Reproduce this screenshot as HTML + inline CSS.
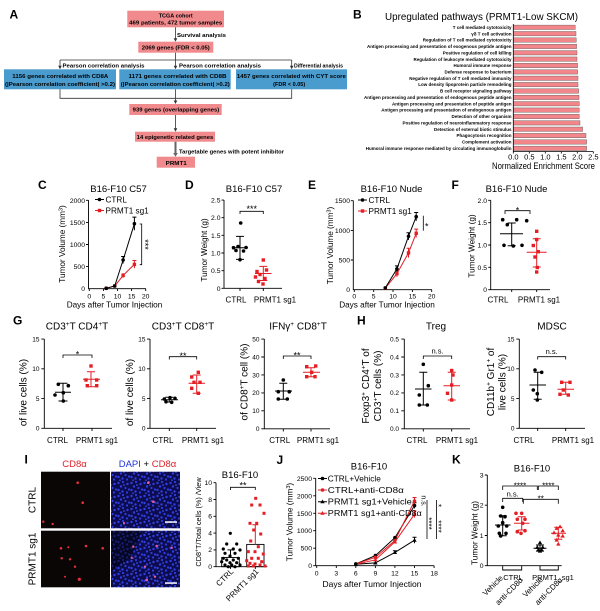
<!DOCTYPE html>
<html><head><meta charset="utf-8">
<style>
html,body{margin:0;padding:0;background:#fff;width:600px;height:611px;overflow:hidden}
svg{display:block}
text{font-family:"Liberation Sans",Arial,sans-serif;fill:#000}
</style></head><body>
<svg xmlns="http://www.w3.org/2000/svg" width="600" height="611" viewBox="0 0 600 611">
<defs>
<pattern id="dapi" width="13" height="13" patternUnits="userSpaceOnUse">
<rect width="13" height="13" fill="#0c0c4e"/>
<g fill="#2e3ee0">
<circle cx="1.5" cy="2" r="1.2"/><circle cx="6" cy="1" r="1.1"/><circle cx="10.5" cy="3" r="1.2"/>
<circle cx="4" cy="5.5" r="1.2"/><circle cx="8.5" cy="7" r="1.1"/><circle cx="12" cy="8.5" r="1.1"/>
<circle cx="1.5" cy="9" r="1.2"/><circle cx="5.5" cy="10.5" r="1.2"/><circle cx="10" cy="11.5" r="1.1"/>
</g>
<g fill="#5060ff"><circle cx="7" cy="4" r="0.8"/><circle cx="3" cy="12.2" r="0.7"/></g>
</pattern>
</defs>
<rect width="600" height="611" fill="#fff"/>

<!-- ============ PANEL A ============ -->
<text x="9.5" y="18.5" font-size="12" font-weight="bold">A</text>
<g fill="#f08a8d">
<rect x="127.3" y="10.7" width="96.7" height="16.6"/>
<rect x="138.3" y="41.7" width="75" height="11"/>
<rect x="129.3" y="104" width="92.4" height="11"/>
<rect x="135" y="131.7" width="80" height="10"/>
<rect x="156.7" y="156.7" width="38.3" height="11"/>
</g>
<g fill="#4a9ccf">
<rect x="4" y="69.3" width="112" height="20"/>
<rect x="119.3" y="69.3" width="111.4" height="20"/>
<rect x="236" y="69.3" width="111" height="20"/>
</g>
<g stroke="#333" stroke-width="0.8" fill="none">
<path d="M175.5 27.3V39 M175.5 52.7V60 M60 60H291.7 M60 60V66.5 M175.5 60V66.5 M291.7 60V66.5 M60 89.3V98.3H291.7V89.3 M175.5 89.3V101.3 M175.5 115V129"/>
</g>
<path d="M175.5 141.7V153.5" stroke="#666" stroke-width="2"/>
<g fill="#333">
<polygon points="173.7,38.2 177.3,38.2 175.5,41.7"/>
<polygon points="58.2,65.8 61.8,65.8 60,69.3"/>
<polygon points="173.7,65.8 177.3,65.8 175.5,69.3"/>
<polygon points="289.9,65.8 293.5,65.8 291.7,69.3"/>
<polygon points="173.7,100.5 177.3,100.5 175.5,104"/>
<polygon points="173.7,128.2 177.3,128.2 175.5,131.7"/>
<polygon points="173.2,153 177.8,153 175.5,156.7" fill="#666"/>
</g>
<g font-size="5.5" font-weight="bold" fill="#222">
<text x="175.7" y="17.5" text-anchor="middle">TCGA cohort</text>
<text x="175.7" y="24.7" text-anchor="middle" textLength="93" lengthAdjust="spacingAndGlyphs">469 patients, 472 tumor samples</text>
<text x="175.8" y="49.5" text-anchor="middle" textLength="68" lengthAdjust="spacingAndGlyphs">2069 genes (FDR &lt; 0.05)</text>
<text x="177" y="37" textLength="49" lengthAdjust="spacingAndGlyphs">Survival analysis</text>
<text x="62.5" y="67.5" textLength="82" lengthAdjust="spacingAndGlyphs">Pearson correlation analysis</text>
<text x="179" y="67.5" textLength="82" lengthAdjust="spacingAndGlyphs">Pearson correlation analysis</text>
<text x="294" y="67.5" textLength="49" lengthAdjust="spacingAndGlyphs">Differential analysis</text>
<text x="60.3" y="78" text-anchor="middle" textLength="96" lengthAdjust="spacingAndGlyphs">1156 genes correlated with CD8A</text>
<text x="60" y="86" text-anchor="middle" textLength="110" lengthAdjust="spacingAndGlyphs">(|Pearson correlation coefficient| &gt;0.2)</text>
<text x="177.5" y="78" text-anchor="middle" textLength="98" lengthAdjust="spacingAndGlyphs">1171 genes correlated with CD8B</text>
<text x="175.3" y="86" text-anchor="middle" textLength="109" lengthAdjust="spacingAndGlyphs">(|Pearson correlation coefficient| &gt;0.2)</text>
<text x="291.4" y="78" text-anchor="middle" textLength="109" lengthAdjust="spacingAndGlyphs">1457 genes correlated with CYT score</text>
<text x="289.2" y="86" text-anchor="middle" textLength="32" lengthAdjust="spacingAndGlyphs">(FDR &lt; 0.05)</text>
<text x="176" y="111.7" text-anchor="middle" textLength="86.6" lengthAdjust="spacingAndGlyphs">939 genes (overlapping genes)</text>
<text x="175" y="138.9" text-anchor="middle" textLength="76.6" lengthAdjust="spacingAndGlyphs">14 epigenetic related genes</text>
<text x="179" y="153.5" textLength="105" lengthAdjust="spacingAndGlyphs">Targetable genes with potent inhibitor</text>
<text x="176.2" y="165" text-anchor="middle" textLength="21" lengthAdjust="spacingAndGlyphs">PRMT1</text>
</g>

<!-- ============ PANEL B ============ -->
<text x="353" y="18.5" font-size="12" font-weight="bold">B</text>
<text x="385" y="20" font-size="10" textLength="193" lengthAdjust="spacingAndGlyphs">Upregulated pathways (PRMT1-Low SKCM)</text>
<g fill="#f3868a" stroke="#555" stroke-width="0.4">
<rect x="513.3" y="25.1" width="62" height="4.4"/>
<rect x="513.3" y="31.47" width="62.7" height="4.4"/>
<rect x="513.3" y="37.84" width="63" height="4.4"/>
<rect x="513.3" y="44.21" width="63.3" height="4.4"/>
<rect x="513.3" y="50.58" width="63.7" height="4.4"/>
<rect x="513.3" y="56.95" width="63.7" height="4.4"/>
<rect x="513.3" y="63.32" width="64.3" height="4.4"/>
<rect x="513.3" y="69.69" width="64.3" height="4.4"/>
<rect x="513.3" y="76.06" width="64.7" height="4.4"/>
<rect x="513.3" y="82.43" width="64.7" height="4.4"/>
<rect x="513.3" y="88.8" width="65.3" height="4.4"/>
<rect x="513.3" y="95.17" width="65.7" height="4.4"/>
<rect x="513.3" y="101.54" width="66" height="4.4"/>
<rect x="513.3" y="107.91" width="66" height="4.4"/>
<rect x="513.3" y="114.28" width="66" height="4.4"/>
<rect x="513.3" y="120.65" width="66.7" height="4.4"/>
<rect x="513.3" y="127.02" width="69.3" height="4.4"/>
<rect x="513.3" y="133.39" width="72.7" height="4.4"/>
<rect x="513.3" y="139.76" width="73.3" height="4.4"/>
<rect x="513.3" y="146.13" width="73.3" height="4.4"/>
</g>
<g font-size="4.5" font-weight="bold" text-anchor="end">
<text x="511.5" y="28.9">T cell mediated cytotoxicity</text>
<text x="511.5" y="35.27">γδ T cell activation</text>
<text x="511.5" y="41.64">Regulation of T cell mediated cytotoxicity</text>
<text x="511.5" y="48.01">Antigen processing and presentation of exogenous peptide antigen</text>
<text x="511.5" y="54.38">Positive regulation of cell killing</text>
<text x="511.5" y="60.75">Regulation of leukocyte mediated cytotoxicity</text>
<text x="511.5" y="67.12">Humoral immune response</text>
<text x="511.5" y="73.49">Defense response to bacterium</text>
<text x="511.5" y="79.86">Negative regulation of T cell mediated immunity</text>
<text x="511.5" y="86.23">Low density lipoprotein particle remodeling</text>
<text x="511.5" y="92.6">B cell receptor signaling pathway</text>
<text x="511.5" y="98.97">Antigen processing and presentation of endogenous peptide antigen</text>
<text x="511.5" y="105.34">Antigen processing and presentation of peptide antigen</text>
<text x="511.5" y="111.71">Antigen processing and presentation of endogenous antigen</text>
<text x="511.5" y="118.08">Detection of other organism</text>
<text x="511.5" y="124.45">Positive regulation of neuroinflammatory response</text>
<text x="511.5" y="130.82">Detection of external biotic stimulus</text>
<text x="511.5" y="137.19">Phagocytosis recognition</text>
<text x="511.5" y="143.56">Complement activation</text>
<text x="511.5" y="149.93">Humoral immune response mediated by circulating immunoglobulin</text>
</g>
<g stroke="#000" stroke-width="0.8" fill="none">
<path d="M513.3 24V151.5H593.3 M513.3 151.5V153.5 M529.3 151.5V153.5 M545.3 151.5V153.5 M561.3 151.5V153.5 M577.3 151.5V153.5 M593.3 151.5V153.5"/>
</g>
<g font-size="7.5" text-anchor="middle">
<text x="513.3" y="159.5">0.0</text><text x="529.3" y="159.5">0.5</text><text x="545.3" y="159.5">1.0</text>
<text x="561.3" y="159.5">1.5</text><text x="577.3" y="159.5">2.0</text><text x="593.3" y="159.5">2.5</text>
</g>
<text x="543.5" y="169" font-size="9" text-anchor="middle" textLength="103" lengthAdjust="spacingAndGlyphs">Normalized Enrichment Score</text>

<!-- ============ PANEL C ============ -->
<text x="38" y="189" font-size="12" font-weight="bold">C</text>
<text x="118.5" y="192" font-size="9.5" text-anchor="middle">B16-F10 C57</text>
<g stroke="#000" stroke-width="0.9" fill="none">
<path d="M88.5 200.3V288.7H146 M86 200.3H88.5 M86 222.4H88.5 M86 244.5H88.5 M86 266.6H88.5 M89.3 288.7V291 M103.4 288.7V291 M117.5 288.7V291 M131.6 288.7V291 M145.7 288.7V291"/>
</g>
<g font-size="6.8" text-anchor="end">
<text x="85" y="202.8">2000</text><text x="85" y="224.9">1500</text><text x="85" y="247">1000</text><text x="85" y="269.1">500</text><text x="85" y="291.2">0</text>
</g>
<g font-size="6.8" text-anchor="middle">
<text x="89.3" y="298.5">0</text><text x="103.4" y="298.5">5</text><text x="117.5" y="298.5">10</text><text x="131.6" y="298.5">15</text><text x="145.7" y="298.5">20</text>
</g>
<text transform="translate(65 244) rotate(-90)" font-size="8.2" text-anchor="middle">Tumor Volume (mm<tspan dy="-2.6" font-size="5.5">3</tspan><tspan dy="2.6">)</tspan></text>
<text x="114.5" y="307.5" font-size="8.2" text-anchor="middle">Days after Tumor Injection</text>
<g fill="none" stroke-width="1">
<path d="M106.2 288.3L114.7 286L123.1 275.4L134.4 264.4 M134.4 260.5V268.3 M132.4 260.5H136.4 M123.1 273V277.8" stroke="#e31e24"/>
<path d="M106.2 288.3L114.7 286L123.1 260L134.4 223.7 M134.4 217.1V230.3 M132.4 217.1H136.4 M123.1 256.5V263.5 M121.1 256.5H125.1" stroke="#000"/>
<path d="M95 210.5H104" stroke="#e31e24"/><path d="M95 199.5H104" stroke="#000"/>
</g>
<g fill="#e31e24">
<rect x="104.5" y="286.6" width="3.4" height="3.4"/><rect x="113" y="284.3" width="3.4" height="3.4"/>
<rect x="121.4" y="273.7" width="3.4" height="3.4"/><rect x="132.7" y="262.7" width="3.4" height="3.4"/>
<rect x="97.8" y="208.8" width="3.4" height="3.4"/>
</g>
<g fill="#000">
<circle cx="106.2" cy="288.3" r="1.8"/><circle cx="114.7" cy="286" r="1.8"/><circle cx="123.1" cy="260" r="1.8"/><circle cx="134.4" cy="223.7" r="1.8"/>
<circle cx="99.5" cy="199.5" r="1.8"/>
</g>
<text x="105.5" y="202.5" font-size="8.2">CTRL</text>
<text x="105.5" y="213.5" font-size="8.2">PRMT1 sg1</text>
<path d="M139.7 224H141.7V264.7H139.7" stroke="#000" stroke-width="0.8" fill="none"/>
<text transform="translate(142 244.5) rotate(90)" font-size="9" text-anchor="middle">***</text>

<!-- ============ PANEL D ============ -->
<text x="185" y="189" font-size="12" font-weight="bold">D</text>
<text x="254" y="192" font-size="9.5" text-anchor="middle">B16-F10 C57</text>
<g stroke="#000" stroke-width="0.9" fill="none">
<path d="M224 200V288.3H282 M221.5 200.05H224 M221.5 217.7H224 M221.5 235.35H224 M221.5 253H224 M221.5 270.65H224 M221.5 288.3H224 M240 288.3V291 M263.3 288.3V291"/>
</g>
<g font-size="6.8" text-anchor="end">
<text x="220.5" y="202.5">2.5</text><text x="220.5" y="220.2">2.0</text><text x="220.5" y="237.8">1.5</text>
<text x="220.5" y="255.5">1.0</text><text x="220.5" y="273.1">0.5</text><text x="220.5" y="290.8">0</text>
</g>
<text x="236" y="302.5" font-size="8" text-anchor="middle">CTRL</text>
<text x="275" y="302.5" font-size="8" text-anchor="middle">PRMT1 sg1</text>
<text transform="translate(207 250) rotate(-90)" font-size="8.2" text-anchor="middle">Tumor Weight (g)</text>
<g fill="#000">
<circle cx="240.7" cy="223" r="1.8"/><circle cx="233.5" cy="247.7" r="1.8"/><circle cx="238" cy="246.5" r="1.8"/>
<circle cx="246" cy="247.5" r="1.8"/><circle cx="236" cy="250.5" r="1.8"/><circle cx="243.5" cy="251" r="1.8"/><circle cx="240" cy="259.7" r="1.8"/>
</g>
<g fill="#e31e24">
<rect x="261.6" y="258.3" width="3.4" height="3.4"/><rect x="255.3" y="269.8" width="3.4" height="3.4"/><rect x="264.8" y="268.3" width="3.4" height="3.4"/>
<rect x="258.3" y="272.8" width="3.4" height="3.4"/><rect x="253.8" y="275.3" width="3.4" height="3.4"/><rect x="263.3" y="276.8" width="3.4" height="3.4"/>
<rect x="256.8" y="279.8" width="3.4" height="3.4"/><rect x="261.3" y="282.3" width="3.4" height="3.4"/>
</g>
<path d="M232 247.7H248 M240 236.4V259.4 M236 236.4H244 M236 259.4H244" stroke="#000" stroke-width="1" fill="none"/>
<path d="M255 273.5H271.5 M263.3 266.4V280.5 M259.3 266.4H267.3 M259.3 280.5H267.3" stroke="#e31e24" stroke-width="1" fill="none"/>
<path d="M240 214V211.3H263.3V214" stroke="#000" stroke-width="0.8" fill="none"/>
<text x="251.7" y="211.8" font-size="9" text-anchor="middle">***</text>

<!-- ============ PANEL E ============ -->
<text x="308" y="189" font-size="12" font-weight="bold">E</text>
<text x="391.5" y="192" font-size="9.5" text-anchor="middle">B16-F10 Nude</text>
<g stroke="#000" stroke-width="0.9" fill="none">
<path d="M353.3 200.5V289.7H432 M350.8 200.7H353.3 M350.8 230.4H353.3 M350.8 260H353.3 M354.3 289.7V292 M373.7 289.7V292 M393 289.7V292 M412.4 289.7V292 M431.7 289.7V292"/>
</g>
<g font-size="6.8" text-anchor="end">
<text x="350" y="203.2">1500</text><text x="350" y="232.9">1000</text><text x="350" y="262.5">500</text><text x="350" y="292.2">0</text>
</g>
<g font-size="6.8" text-anchor="middle">
<text x="354.3" y="298.5">0</text><text x="373.7" y="298.5">5</text><text x="393" y="298.5">10</text><text x="412.4" y="298.5">15</text><text x="431.7" y="298.5">20</text>
</g>
<text transform="translate(333 245.5) rotate(-90)" font-size="8.2" text-anchor="middle">Tumor Volume (mm<tspan dy="-2.6" font-size="5.5">3</tspan><tspan dy="2.6">)</tspan></text>
<text x="387" y="307.5" font-size="8.2" text-anchor="middle">Days after Tumor Injection</text>
<g fill="none" stroke-width="1">
<path d="M385.3 288.2L396.9 273.7L408.5 252.9L416.2 233.3 M396.9 270.7V276.7 M394.9 270.7H398.9 M408.5 248.2V257.6 M406.5 248.2H410.5 M416.2 229.1V237.5 M414.2 229.1H418.2" stroke="#e31e24"/>
<path d="M385.3 287.9L396.9 268.9L408.5 236.3L416.2 216.7 M396.9 265.9V271.9 M394.9 265.9H398.9 M408.5 232.7V239.9 M406.5 232.7H410.5 M416.2 212.5V220.9 M414.2 212.5H418.2" stroke="#000"/>
<path d="M358 211H367" stroke="#e31e24"/><path d="M358 200H367" stroke="#000"/>
</g>
<g fill="#e31e24">
<rect x="383.6" y="286.5" width="3.4" height="3.4"/><rect x="395.2" y="272" width="3.4" height="3.4"/>
<rect x="406.8" y="251.2" width="3.4" height="3.4"/><rect x="414.5" y="231.6" width="3.4" height="3.4"/>
<rect x="360.8" y="209.3" width="3.4" height="3.4"/>
</g>
<g fill="#000">
<circle cx="385.3" cy="287.9" r="1.8"/><circle cx="396.9" cy="268.9" r="1.8"/><circle cx="408.5" cy="236.3" r="1.8"/><circle cx="416.2" cy="216.7" r="1.8"/>
<circle cx="362.5" cy="200" r="1.8"/>
</g>
<text x="368.5" y="203" font-size="8.2">CTRL</text>
<text x="368.5" y="214" font-size="8.2">PRMT1 sg1</text>
<path d="M423.3 215.7V230.7" stroke="#000" stroke-width="0.8"/>
<text x="425" y="229.5" font-size="9">*</text>

<!-- ============ PANEL F ============ -->
<text x="451.5" y="189" font-size="12" font-weight="bold">F</text>
<text x="516.5" y="192" font-size="9.5" text-anchor="middle">B16-F10 Nude</text>
<g stroke="#000" stroke-width="0.9" fill="none">
<path d="M490.7 200.3V289.7H550 M488.2 200.3H490.7 M488.2 222.65H490.7 M488.2 245H490.7 M488.2 267.35H490.7 M488.2 289.7H490.7 M511.7 289.7V292 M536.7 289.7V292"/>
</g>
<g font-size="6.8" text-anchor="end">
<text x="487" y="202.8">2.0</text><text x="487" y="225.1">1.5</text><text x="487" y="247.5">1.0</text><text x="487" y="269.8">0.5</text><text x="487" y="292.2">0</text>
</g>
<text x="498" y="302.5" font-size="8" text-anchor="middle">CTRL</text>
<text x="539" y="302.5" font-size="8" text-anchor="middle">PRMT1 sg1</text>
<text transform="translate(474.5 246) rotate(-90)" font-size="8.2" text-anchor="middle">Tumor Weight (g)</text>
<g fill="#000">
<circle cx="502.7" cy="219.7" r="1.8"/><circle cx="516.7" cy="219.7" r="1.8"/><circle cx="526.7" cy="220.7" r="1.8"/>
<circle cx="507.3" cy="224.7" r="1.8"/><circle cx="504" cy="245.3" r="1.8"/><circle cx="513.3" cy="246" r="1.8"/><circle cx="522" cy="245.3" r="1.8"/>
</g>
<g fill="#e31e24">
<rect x="535" y="229.6" width="3.4" height="3.4"/><rect x="535" y="237.8" width="3.4" height="3.4"/><rect x="531.6" y="243.8" width="3.4" height="3.4"/>
<rect x="536.6" y="250" width="3.4" height="3.4"/><rect x="533.3" y="255.3" width="3.4" height="3.4"/><rect x="535.6" y="265.8" width="3.4" height="3.4"/>
<rect x="535" y="270.3" width="3.4" height="3.4"/>
</g>
<path d="M500 233.7H523 M511.7 223V245.7 M507.7 223H515.7 M507.7 245.7H515.7" stroke="#000" stroke-width="1" fill="none"/>
<path d="M526.7 252.3H546.7 M536.7 238.7V267 M532.7 238.7H540.7 M532.7 267H540.7" stroke="#e31e24" stroke-width="1" fill="none"/>
<path d="M505 214V210.7H530V214" stroke="#000" stroke-width="0.8" fill="none"/>
<text x="517.5" y="213.5" font-size="9" text-anchor="middle">*</text>

<!-- ============ PANEL G ============ -->
<text x="13" y="324.5" font-size="12" font-weight="bold">G</text>
<g font-size="10" text-anchor="middle">
<text x="77" y="329.5">CD3<tspan dy="-3.5" font-size="6.5">+</tspan><tspan dy="3.5">T CD4</tspan><tspan dy="-3.5" font-size="6.5">+</tspan><tspan dy="3.5">T</tspan></text>
<text x="183" y="329.5">CD3<tspan dy="-3.5" font-size="6.5">+</tspan><tspan dy="3.5">T CD8</tspan><tspan dy="-3.5" font-size="6.5">+</tspan><tspan dy="3.5">T</tspan></text>
<text x="298" y="329.5">IFNγ<tspan dy="-3.5" font-size="6.5">+</tspan><tspan dy="3.5"> CD8</tspan><tspan dy="-3.5" font-size="6.5">+</tspan><tspan dy="3.5">T</tspan></text>
<text x="436" y="329.5">Treg</text>
<text x="552" y="329.5">MDSC</text>
</g>
<g stroke="#000" stroke-width="0.9" fill="none">
<path d="M44.3 339V428.3H112 M41.3 339.05H44.3 M41.3 368.8H44.3 M41.3 398.55H44.3 M41.3 428.3H44.3 M63 428.3V431 M92 428.3V431"/>
<path d="M150 339V428.3H216 M147 339.05H150 M147 368.8H150 M147 398.55H150 M147 428.3H150 M169.3 428.3V431 M196.7 428.3V431"/>
<path d="M264.3 339V428.8H330 M261.3 339.05H264.3 M261.3 357H264.3 M261.3 374.95H264.3 M261.3 392.9H264.3 M261.3 410.85H264.3 M261.3 428.8H264.3 M283.3 428.8V431.5 M311 428.8V431.5"/>
<path d="M404.3 339V428.8H470 M401.3 339.05H404.3 M401.3 357H404.3 M401.3 374.95H404.3 M401.3 392.9H404.3 M401.3 410.85H404.3 M401.3 428.8H404.3 M423.3 428.8V431.5 M451.7 428.8V431.5"/>
<path d="M519.3 339V428.3H585 M516.3 339.05H519.3 M516.3 368.8H519.3 M516.3 398.55H519.3 M516.3 428.3H519.3 M537.7 428.3V431 M565.7 428.3V431"/>
</g>
<g font-size="6.5" text-anchor="end">
<text x="39.5" y="341.4">15</text><text x="39.5" y="371.1">10</text><text x="39.5" y="400.9">5</text><text x="39.5" y="430.6">0</text>
<text x="145.5" y="341.4">15</text><text x="145.5" y="371.1">10</text><text x="145.5" y="400.9">5</text><text x="145.5" y="430.6">0</text>
<text x="259.5" y="341.4">50</text><text x="259.5" y="359.3">40</text><text x="259.5" y="377.3">30</text><text x="259.5" y="395.2">20</text><text x="259.5" y="413.2">10</text><text x="259.5" y="431.1">0</text>
<text x="399" y="341.4">0.5</text><text x="399" y="359.3">0.4</text><text x="399" y="377.3">0.3</text><text x="399" y="395.2">0.2</text><text x="399" y="413.2">0.1</text><text x="399" y="431.1">0.0</text>
<text x="514.5" y="341.4">15</text><text x="514.5" y="371.1">10</text><text x="514.5" y="400.9">5</text><text x="514.5" y="430.6">0</text>
</g>
<g font-size="8" text-anchor="middle">
<text x="57.5" y="443">CTRL</text><text x="97" y="443">PRMT1 sg1</text>
<text x="163" y="443">CTRL</text><text x="203" y="443">PRMT1 sg1</text>
<text x="279.7" y="443">CTRL</text><text x="318" y="443">PRMT1 sg1</text>
<text x="417" y="443">CTRL</text><text x="457" y="443">PRMT1 sg1</text>
<text x="524" y="443">CTRL</text><text x="573" y="443">PRMT1 sg1</text>
</g>
<g font-size="10" text-anchor="middle">
<text transform="translate(26.5 392.5) rotate(-90)">of live cells (%)</text>
<text transform="translate(133 392.5) rotate(-90)">of live cells (%)</text>
<text transform="translate(247.5 382) rotate(-90)">of CD8<tspan dy="-3.3" font-size="6.5">+</tspan><tspan dy="3.3">T cell (%)</tspan></text>
<text transform="translate(369 386) rotate(-90)">Foxp3<tspan dy="-3.3" font-size="6.5">+</tspan><tspan dy="3.3"> CD4</tspan><tspan dy="-3.3" font-size="6.5">+</tspan><tspan dy="3.3">T of</tspan></text>
<text transform="translate(381 386) rotate(-90)">CD3<tspan dy="-3.3" font-size="6.5">+</tspan><tspan dy="3.3">T cells (%)</tspan></text>
<text transform="translate(494 382) rotate(-90)">CD11b<tspan dy="-3.3" font-size="6.5">+</tspan><tspan dy="3.3"> Gr1</tspan><tspan dy="-3.3" font-size="6.5">+</tspan><tspan dy="3.3"> of</tspan></text>
<text transform="translate(505.5 382) rotate(-90)">live cells (%)</text>
</g>
<g fill="#000">
<circle cx="58.3" cy="384.3" r="1.8"/><circle cx="68.3" cy="385.7" r="1.8"/><circle cx="63.3" cy="392.7" r="1.8"/><circle cx="55" cy="395" r="1.8"/><circle cx="63.3" cy="401" r="1.8"/>
<circle cx="164.3" cy="399" r="1.8"/><circle cx="170" cy="397.7" r="1.8"/><circle cx="175" cy="398.3" r="1.8"/><circle cx="166" cy="401.7" r="1.8"/><circle cx="171.7" cy="402.3" r="1.8"/>
<circle cx="283.3" cy="380" r="1.8"/><circle cx="278.3" cy="391.7" r="1.8"/><circle cx="289.3" cy="391.7" r="1.8"/><circle cx="278.3" cy="399" r="1.8"/><circle cx="287.3" cy="399" r="1.8"/>
<circle cx="423.3" cy="364.3" r="1.8"/><circle cx="428.3" cy="385.7" r="1.8"/><circle cx="419.3" cy="395" r="1.8"/><circle cx="419.3" cy="405" r="1.8"/><circle cx="427.3" cy="405" r="1.8"/>
<circle cx="535" cy="370" r="1.8"/><circle cx="541.7" cy="372.3" r="1.8"/><circle cx="533.3" cy="390" r="1.8"/><circle cx="537.3" cy="393.7" r="1.8"/><circle cx="537.3" cy="400" r="1.8"/>
</g>
<g fill="#e31e24">
<rect x="89.3" y="364.3" width="3.4" height="3.4"/><rect x="84.3" y="378.3" width="3.4" height="3.4"/><rect x="95" y="378.3" width="3.4" height="3.4"/><rect x="85.6" y="384" width="3.4" height="3.4"/><rect x="95" y="384" width="3.4" height="3.4"/>
<rect x="196.6" y="370.6" width="3.4" height="3.4"/><rect x="190" y="375.3" width="3.4" height="3.4"/><rect x="192.3" y="380.6" width="3.4" height="3.4"/><rect x="198.3" y="380.6" width="3.4" height="3.4"/><rect x="190" y="386.6" width="3.4" height="3.4"/><rect x="196.6" y="391.6" width="3.4" height="3.4"/>
<rect x="305" y="365" width="3.4" height="3.4"/><rect x="314" y="364.3" width="3.4" height="3.4"/><rect x="310" y="370.6" width="3.4" height="3.4"/><rect x="305" y="375" width="3.4" height="3.4"/><rect x="313.3" y="375" width="3.4" height="3.4"/>
<rect x="450" y="368.8" width="3.4" height="3.4"/><rect x="451.3" y="373.3" width="3.4" height="3.4"/><rect x="450" y="383.3" width="3.4" height="3.4"/><rect x="445.8" y="391.6" width="3.4" height="3.4"/><rect x="450" y="398.3" width="3.4" height="3.4"/>
<rect x="560" y="380.6" width="3.4" height="3.4"/><rect x="568.3" y="380.6" width="3.4" height="3.4"/><rect x="561.6" y="388.3" width="3.4" height="3.4"/><rect x="558.3" y="392.6" width="3.4" height="3.4"/><rect x="566.6" y="393.3" width="3.4" height="3.4"/>
</g>
<g stroke="#000" stroke-width="1" fill="none">
<path d="M55 392.3H71 M63 383.3V401 M58.5 383.3H67.5 M58.5 401H67.5"/>
<path d="M161 399.7H178 M169.3 397.3V402 M165.3 397.3H173.3 M165.3 402H173.3"/>
<path d="M275 391H292 M283.3 383.3V399.3 M279.3 383.3H287.3 M279.3 399.3H287.3"/>
<path d="M415 389H431.5 M423.3 372.3V405 M419.3 372.3H427.3 M419.3 405H427.3"/>
<path d="M529.5 385H546 M537.7 372.3V399.3 M533.7 372.3H541.7 M533.7 399.3H541.7"/>
</g>
<g stroke="#e31e24" stroke-width="1" fill="none">
<path d="M83 379.3H100 M91 371.7V386.7 M87 371.7H95 M87 386.7H95"/>
<path d="M188.5 383.3H205 M196.7 375V393.3 M192.7 375H200.7 M192.7 393.3H200.7"/>
<path d="M303 372.3H320 M311 367.7V376.7 M307 367.7H315 M307 376.7H315"/>
<path d="M443.5 385.7H460 M451.7 372.3V400 M447.7 372.3H455.7 M447.7 400H455.7"/>
<path d="M557.5 389.3H574 M565.7 382.3V394.3 M561.7 382.3H569.7 M561.7 394.3H569.7"/>
</g>
<g stroke="#000" stroke-width="0.8" fill="none">
<path d="M63 358V355H92V358"/>
<path d="M169.3 359.5V356.7H196.7V359.5"/>
<path d="M283.3 359V356H311V359"/>
<path d="M423.3 359V356H451.7V359"/>
<path d="M537.7 359.5V356.7H565.7V359.5"/>
</g>
<g font-size="9" text-anchor="middle">
<text x="77.5" y="357.5">*</text>
<text x="183" y="359">**</text>
<text x="297" y="358.5">**</text>
</g>
<g font-size="7.5" text-anchor="middle">
<text x="437.5" y="353.3">n.s.</text>
<text x="551.7" y="354">n.s.</text>
</g>
<text x="357" y="324.5" font-size="12" font-weight="bold">H</text>

<!-- ============ PANEL I ============ -->
<text x="24.5" y="463.5" font-size="12" font-weight="bold">I</text>
<text x="74.5" y="467" font-size="9.5" text-anchor="middle" style="fill:#e0202a">CD8α</text>
<text x="147.5" y="467" font-size="9.5" text-anchor="middle"><tspan style="fill:#2233dd">DAPI</tspan> + <tspan style="fill:#e0202a">CD8α</tspan></text>
<rect x="41" y="471.7" width="69" height="56.6" fill="#0b0606"/>
<rect x="41" y="530.7" width="69" height="56.6" fill="#0b0606"/>
<rect x="111" y="471.7" width="69" height="56.6" fill="url(#dapi)"/>
<rect x="111" y="530.7" width="69" height="56.6" fill="url(#dapi)"/>
<path d="M111 530.7H142L132 556L111 572Z" fill="#000" opacity="0.5"/>
<g fill="#e8303a">
<circle cx="77.7" cy="482.7" r="1.3"/><circle cx="82.7" cy="502.7" r="1.3"/><circle cx="43.3" cy="521.7" r="1.2"/><circle cx="52.7" cy="524" r="1.2"/>
<circle cx="61" cy="548.3" r="1.3"/><circle cx="68.3" cy="547.3" r="1"/><circle cx="86" cy="546" r="1.3"/><circle cx="102.7" cy="548.3" r="1.3"/>
<circle cx="61.7" cy="558.3" r="1.2"/><circle cx="70" cy="559.3" r="1.2"/><circle cx="75" cy="566.7" r="1.2"/><circle cx="65" cy="576.7" r="1"/><circle cx="79.3" cy="579.3" r="1.6"/>
</g>
<g fill="#e85aa0">
<circle cx="148.3" cy="482.7" r="1.3"/><circle cx="153.3" cy="501.7" r="1.3"/><circle cx="124" cy="523" r="1.1"/>
<circle cx="133.3" cy="546.7" r="1.2"/><circle cx="156.7" cy="546" r="1.3"/><circle cx="171.7" cy="547.7" r="1.2"/><circle cx="131.7" cy="557.7" r="1.1"/>
<circle cx="145" cy="566.7" r="1.2"/><circle cx="155" cy="576.7" r="1.2"/><circle cx="146.7" cy="580" r="1.4"/>
</g>
<rect x="165" y="521.3" width="12" height="1.5" fill="#fff"/>
<rect x="165" y="582.3" width="12" height="1.5" fill="#fff"/>
<text transform="translate(35.5 500) rotate(-90)" font-size="10" text-anchor="middle">CTRL</text>
<text transform="translate(35.5 559) rotate(-90)" font-size="10" text-anchor="middle">PRMT1 sg1</text>

<text x="240" y="478" font-size="9.5" text-anchor="middle">B16-F10</text>
<rect x="221.7" y="557.5" width="17.6" height="9.2" fill="#fff" stroke="#000" stroke-width="0.9"/>
<rect x="246.7" y="544.4" width="17.3" height="22.3" fill="#fff" stroke="#000" stroke-width="0.9"/>
<g stroke="#000" stroke-width="0.9" fill="none">
<path d="M216 482.7V566.7H267.3 M213.5 482.7H216 M213.5 499.5H216 M213.5 516.3H216 M213.5 533.1H216 M213.5 549.9H216 M213.5 566.7H216 M230.5 566.7V569 M255.3 566.7V569"/>
</g>
<g font-size="6.8" text-anchor="end">
<text x="212" y="485">10</text><text x="212" y="501.8">8</text><text x="212" y="518.6">6</text><text x="212" y="535.4">4</text><text x="212" y="552.2">2</text><text x="212" y="569">0</text>
</g>
<g fill="#000">
<circle cx="230.3" cy="533.3" r="1.6"/><circle cx="226.7" cy="544" r="1.6"/><circle cx="236.7" cy="544" r="1.6"/><circle cx="223.3" cy="549" r="1.6"/>
<circle cx="233.3" cy="549" r="1.6"/><circle cx="240" cy="550" r="1.6"/><circle cx="225" cy="553.3" r="1.6"/><circle cx="235" cy="553.3" r="1.6"/>
<circle cx="230" cy="556" r="1.6"/><circle cx="223.3" cy="558.3" r="1.6"/><circle cx="238.3" cy="558.3" r="1.6"/><circle cx="226.7" cy="560" r="1.6"/>
<circle cx="233.3" cy="560" r="1.6"/><circle cx="221.7" cy="561.7" r="1.6"/><circle cx="230" cy="562.7" r="1.6"/><circle cx="236.7" cy="562.7" r="1.6"/>
<circle cx="225" cy="565" r="1.6"/><circle cx="231.7" cy="565" r="1.6"/><circle cx="240" cy="565" r="1.6"/><circle cx="228.3" cy="566.7" r="1.6"/><circle cx="235" cy="566.7" r="1.6"/>
</g>
<g fill="#e31e24">
<rect x="254.2" y="496.8" width="3" height="3"/><rect x="250.2" y="503.5" width="3" height="3"/><rect x="258.5" y="503.5" width="3" height="3"/>
<rect x="262.5" y="511.8" width="3" height="3"/><rect x="248.5" y="521.8" width="3" height="3"/><rect x="255.2" y="521.8" width="3" height="3"/>
<rect x="252.2" y="528.5" width="3" height="3"/><rect x="259.2" y="532.5" width="3" height="3"/><rect x="249.2" y="539.5" width="3" height="3"/>
<rect x="256.8" y="545.2" width="3" height="3"/><rect x="246.8" y="550.2" width="3" height="3"/><rect x="253.5" y="550.2" width="3" height="3"/>
<rect x="261.8" y="552.5" width="3" height="3"/><rect x="250.2" y="556.8" width="3" height="3"/><rect x="256.8" y="556.8" width="3" height="3"/>
<rect x="245.2" y="559.2" width="3" height="3"/><rect x="260.2" y="560.2" width="3" height="3"/><rect x="248.5" y="561.8" width="3" height="3"/>
<rect x="253.5" y="562.5" width="3" height="3"/><rect x="258.5" y="563.5" width="3" height="3"/><rect x="246.8" y="564.5" width="3" height="3"/>
<rect x="251.8" y="564.5" width="3" height="3"/><rect x="263.5" y="564.5" width="3" height="3"/>
</g>
<path d="M230.5 549.9V557.5 M227.5 549.9H233.5" stroke="#000" stroke-width="1" fill="none"/>
<path d="M255.3 524.7V544.4 M252.3 524.7H258.3" stroke="#e31e24" stroke-width="1" fill="none"/>
<path d="M230.5 490V487.3H255.3V490" stroke="#000" stroke-width="0.8" fill="none"/>
<text x="243" y="488.5" font-size="9" text-anchor="middle">**</text>
<text transform="translate(201 522) rotate(-90)" font-size="7.3" text-anchor="middle">CD8<tspan dy="-2.5" font-size="5">+</tspan><tspan dy="2.5">T/Total cells (%) /View</tspan></text>
<text transform="translate(234 572) rotate(-45)" font-size="8" text-anchor="end">CTRL</text>
<text transform="translate(259 572) rotate(-45)" font-size="8" text-anchor="end">PRMT1 sg1</text>

<!-- ============ PANEL J ============ -->
<text x="276.5" y="464" font-size="12" font-weight="bold">J</text>
<text x="369" y="469.5" font-size="9.5" text-anchor="middle">B16-F10</text>
<g stroke="#000" stroke-width="0.9" fill="none">
<path d="M315.7 478.3V565.7H434.1 M313.2 478.3H315.7 M313.2 495.8H315.7 M313.2 513.3H315.7 M313.2 530.7H315.7 M313.2 548.2H315.7 M313.2 565.7H315.7 M316.7 565.7V568 M336.3 565.7V568 M355.8 565.7V568 M375.4 565.7V568 M394.9 565.7V568 M414.5 565.7V568 M434.1 565.7V568"/>
</g>
<g font-size="6.8" text-anchor="end">
<text x="312" y="480.8">2500</text><text x="312" y="498.3">2000</text><text x="312" y="515.8">1500</text><text x="312" y="533.2">1000</text><text x="312" y="550.7">500</text><text x="312" y="568.2">0</text>
</g>
<g font-size="6.8" text-anchor="middle">
<text x="316.7" y="575.5">0</text><text x="336.3" y="575.5">3</text><text x="355.8" y="575.5">6</text><text x="375.4" y="575.5">9</text>
<text x="394.9" y="575.5">12</text><text x="414.5" y="575.5">15</text><text x="434.1" y="575.5">18</text>
</g>
<text x="372" y="587" font-size="8.3" text-anchor="middle" textLength="99" lengthAdjust="spacingAndGlyphs">Days after Tumor Injection</text>
<text transform="translate(292.5 522) rotate(-90)" font-size="8.3" text-anchor="middle">Tumor Volume (mm<tspan dy="-2.6" font-size="5.5">3</tspan><tspan dy="2.6">)</tspan></text>
<g fill="none" stroke-width="1">
<path d="M355.8 564.3L375.4 562.9L394.9 552.4L414.5 540.2 M414.5 537.2V543.2 M412.5 537.2H416.5 M394.9 550.8V554 M392.9 550.8H396.9" stroke="#000"/>
<path d="M355.8 564.3L375.4 559.8L394.9 541.9L414.5 514.3 M414.5 511V517.6 M412.5 511H416.5" stroke="#e31e24"/>
<path d="M355.8 563.95L375.4 555.6L394.9 537.7L414.5 505.6 M414.5 502.8V508.4 M412.5 502.8H416.5" stroke="#000"/>
<path d="M355.8 563.95L375.4 557.3L394.9 540.5L414.5 501 M414.5 497.5V504.5 M412.5 497.5H416.5" stroke="#e31e24"/>
<path d="M318 478.5H327 M318 501.7H327" stroke="#000"/>
<path d="M318 490H327 M318 513.2H327" stroke="#e31e24"/>
</g>
<g fill="#000">
<polygon points="355.8,562.1 353.6,565.9 358,565.9"/><polygon points="375.4,560.7 373.2,564.5 377.6,564.5"/>
<polygon points="394.9,550.2 392.7,554 397.1,554"/><polygon points="414.5,538 412.3,541.8 416.7,541.8"/>
<polygon points="322.5,499.5 320.3,503.3 324.7,503.3"/>
<circle cx="355.8" cy="563.95" r="1.8"/><circle cx="375.4" cy="555.6" r="1.8"/><circle cx="394.9" cy="537.7" r="1.8"/><circle cx="414.5" cy="505.6" r="1.8"/>
<circle cx="322.5" cy="478.5" r="1.8"/>
</g>
<g fill="#e31e24">
<polygon points="375.4,557.6 373.2,561.4 377.6,561.4"/><polygon points="394.9,539.7 392.7,543.5 397.1,543.5"/>
<polygon points="414.5,512.1 412.3,515.9 416.7,515.9"/>
<polygon points="322.5,511 320.3,514.8 324.7,514.8"/>
<circle cx="375.4" cy="557.3" r="1.8"/><circle cx="394.9" cy="540.5" r="1.8"/><circle cx="414.5" cy="501" r="1.8"/>
<circle cx="322.5" cy="490" r="1.8"/>
</g>
<g font-size="8">
<text x="327.8" y="481.3" textLength="53" lengthAdjust="spacingAndGlyphs">CTRL+Vehicle</text>
<text x="327.8" y="492.8" textLength="76" lengthAdjust="spacingAndGlyphs">CTRL+anti-CD8α</text>
<text x="327.8" y="504.5" textLength="84" lengthAdjust="spacingAndGlyphs">PRMT1 sg1+Vehicle</text>
<text x="327.8" y="516" textLength="94" lengthAdjust="spacingAndGlyphs">PRMT1 sg1+anti-CD8α</text>
</g>
<path d="M427 500V539 M436.5 500V539" stroke="#000" stroke-width="0.8"/>
<text transform="translate(421.5 501) rotate(90)" font-size="7" text-anchor="middle">n.s.</text>
<text transform="translate(426 523.5) rotate(90)" font-size="8" text-anchor="middle">****</text>
<text transform="translate(435.5 505.5) rotate(90)" font-size="8" text-anchor="middle">*</text>
<text transform="translate(435.5 526.5) rotate(90)" font-size="8" text-anchor="middle">****</text>

<!-- ============ PANEL K ============ -->
<text x="452" y="463.5" font-size="12" font-weight="bold">K</text>
<text x="532" y="471.5" font-size="9.5" text-anchor="middle">B16-F10</text>
<g stroke="#000" stroke-width="0.9" fill="none">
<path d="M487.3 475V565.7H561.7 M484.8 475H487.3 M484.8 505.2H487.3 M484.8 535.5H487.3 M484.8 565.7H487.3"/>
<path d="M502.7 565.7V570H521.7V565.7 M540 565.7V570H558.3V565.7"/>
</g>
<g font-size="6.8" text-anchor="end">
<text x="483.5" y="477.5">3</text><text x="483.5" y="507.7">2</text><text x="483.5" y="538">1</text><text x="483.5" y="568.2">0</text>
</g>
<text x="513" y="580" font-size="7.5" text-anchor="middle">CTRL</text>
<text x="553" y="580" font-size="7.5" text-anchor="middle">PRMT1_sg1</text>
<g font-size="7.8" text-anchor="end">
<text transform="translate(503.5 578.5) rotate(-45)">Vehicle</text>
<text transform="translate(523.5 580.5) rotate(-45)">anti-CD8α</text>
<text transform="translate(543.5 580) rotate(-45)">Vehicle</text>
<text transform="translate(563 580.5) rotate(-45)">anti-CD8α</text>
</g>
<text transform="translate(477.5 533) rotate(-90)" font-size="8.3" text-anchor="middle">Tumor Weight (g)</text>
<g fill="#000">
<circle cx="502.7" cy="507.3" r="1.8"/><circle cx="500.7" cy="516" r="1.8"/><circle cx="505" cy="516.7" r="1.8"/><circle cx="502.7" cy="522.7" r="1.8"/>
<circle cx="498.3" cy="526" r="1.8"/><circle cx="506.7" cy="526" r="1.8"/><circle cx="499.3" cy="533.3" r="1.8"/><circle cx="506" cy="533.3" r="1.8"/><circle cx="500.7" cy="536" r="1.8"/>
<polygon points="540,540.5 537.8,544.3 542.2,544.3"/><polygon points="537.3,545.1 535.1,548.9 539.5,548.9"/><polygon points="542.7,545.1 540.5,548.9 544.9,548.9"/>
<polygon points="538.3,547.8 536.1,551.6 540.5,551.6"/><polygon points="541.7,547.8 539.5,551.6 543.9,551.6"/><polygon points="540,548.8 537.8,552.6 542.2,552.6"/>
</g>
<g fill="#e31e24">
<circle cx="516" cy="513.3" r="1.8"/><circle cx="521.7" cy="513.3" r="1.8"/><circle cx="517.3" cy="519.3" r="1.8"/><circle cx="525" cy="519.3" r="1.8"/>
<circle cx="522.7" cy="523.3" r="1.8"/><circle cx="517.3" cy="531.7" r="1.8"/><circle cx="525" cy="530.7" r="1.8"/><circle cx="521" cy="533.3" r="1.8"/>
<polygon points="560,524.5 557.8,528.3 562.2,528.3"/><polygon points="556.7,526.1 554.5,529.9 558.9,529.9"/><polygon points="562.7,528.5 560.5,532.3 564.9,532.3"/>
<polygon points="554,530.5 551.8,534.3 556.2,534.3"/><polygon points="558.3,532.8 556.1,536.6 560.5,536.6"/><polygon points="562.7,533.8 560.5,537.6 564.9,537.6"/>
<polygon points="556.7,537.8 554.5,541.6 558.9,541.6"/><polygon points="558.3,541.8 556.1,545.6 560.5,545.6"/>
</g>
<path d="M495 525H510.5 M502.7 515.7V535.7 M498.7 515.7H506.7 M498.7 535.7H506.7 M533.5 548.3H546.5 M540 545V551 M536 545H544 M536 551H544" stroke="#000" stroke-width="1" fill="none"/>
<path d="M514 523.3H529.5 M521.7 516.7V530 M517.7 516.7H525.7 M517.7 530H525.7 M551 533.3H566 M558.3 527.3V539.3 M554.3 527.3H562.3 M554.3 539.3H562.3" stroke="#e31e24" stroke-width="1" fill="none"/>
<g stroke="#000" stroke-width="0.8" fill="none">
<path d="M502.7 490V486H537.3V490"/>
<path d="M538.3 490V486H558.3V490"/>
<path d="M502.7 502V498.3H522.7V502"/>
<path d="M523.3 503.7V499.3H558.3V503.7"/>
</g>
<g font-size="8" text-anchor="middle">
<text x="520" y="488.5">****</text>
<text x="548.3" y="488.5">****</text>
<text x="540.8" y="501.5">**</text>
</g>
<text x="512.7" y="496.5" font-size="7.5" text-anchor="middle">n.s.</text>
</svg>
</body></html>
